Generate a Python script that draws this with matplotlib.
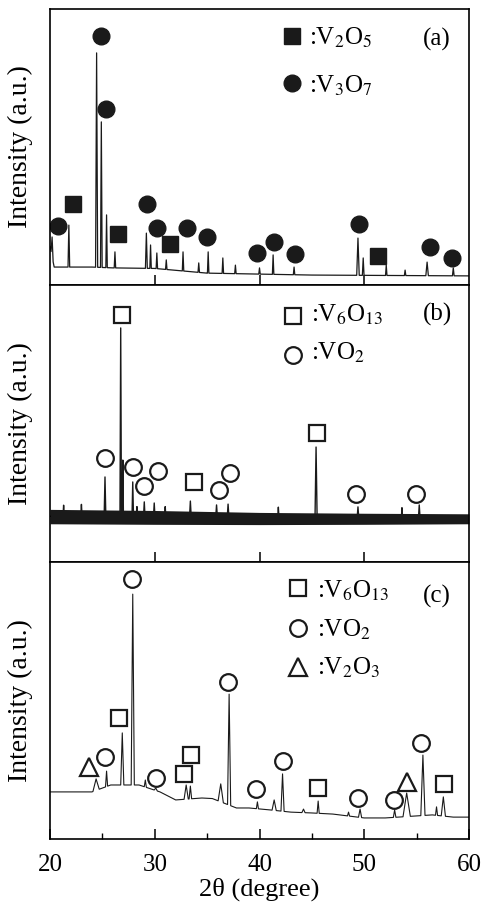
import numpy as np
import matplotlib.pyplot as plt

plt.rcParams['font.family'] = ['Liberation Serif', 'DejaVu Serif']
plt.rcParams['mathtext.fontset'] = 'stix'

#####################################################################
# data (intensity in a.u., each panel 0-100)
#####################################################################
# panel (a)
a_base_x = [20.0, 20.4, 24.0, 26.0, 30.0, 35.0, 45.0, 60.0]
a_base_y = [14.0, 6.5, 6.5, 6.2, 6.0, 4.3, 3.6, 3.3]
a_peak_x = [20.2, 21.8, 24.45, 24.9, 25.4, 26.2, 29.2, 29.6, 30.2, 31.1, 32.7, 34.2,
            35.1, 36.5, 37.7, 40.0, 41.3, 43.3, 49.4, 49.9, 52.1, 53.9, 56.0, 58.5]
a_peak_h = [17.4, 21.7, 84.1, 59.1, 25.4, 12.0, 18.8, 14.5, 11.6, 9.1, 12.0, 8.0,
            12.0, 9.8, 7.2, 6.2, 10.9, 6.5, 17.0, 9.8, 7.2, 5.4, 8.3, 6.2]
a_peak_w = [0.10, 0.08, 0.10, 0.08, 0.07, 0.07, 0.09, 0.07, 0.07, 0.07, 0.07, 0.07,
            0.07, 0.07, 0.07, 0.07, 0.07, 0.07, 0.12, 0.08, 0.07, 0.07, 0.12, 0.08]
a_v2o5_x = [22.2, 26.5, 31.5, 51.3]
a_v2o5_y = [29.3, 18.5, 14.9, 10.5]
a_v3o7_x = [20.8, 24.9, 25.35, 29.3, 30.2, 33.05, 35.0, 39.8, 41.4, 43.4, 49.5, 56.3, 58.35]
a_v3o7_y = [21.4, 90.2, 63.8, 29.3, 20.7, 20.7, 17.4, 11.6, 15.6, 11.2, 22.1, 13.8, 9.8]

# panel (b)
b_band_x = [20.0, 30.0, 40.0, 50.0, 60.0]
b_band_lo = [13.8, 13.6, 13.5, 13.6, 13.8]
b_band_hi = [19.0, 18.6, 17.9, 17.6, 17.4]
b_base_x = [20.0, 60.0]
b_base_y = [16.5, 15.5]
b_peak_x = [21.3, 23.0, 25.25, 26.75, 26.95, 27.9, 28.3, 29.0, 29.95, 31.0, 33.4, 35.9,
            37.0, 41.8, 45.4, 49.4, 53.6, 55.25]
b_peak_h = [20.5, 20.8, 30.7, 84.5, 36.8, 28.9, 20.0, 21.7, 21.3, 20.0, 22.0, 20.6,
            20.9, 19.8, 41.5, 19.9, 19.6, 20.6]
b_peak_w = [0.06, 0.06, 0.08, 0.07, 0.06, 0.07, 0.06, 0.07, 0.07, 0.06, 0.08, 0.08,
            0.08, 0.06, 0.10, 0.08, 0.06, 0.08]
b_v6o13_x = [26.85, 33.7, 45.45]
b_v6o13_y = [89.2, 28.9, 46.6]
b_vo2_x = [25.25, 27.95, 29.0, 30.35, 36.1, 37.2, 49.2, 54.95]
b_vo2_y = [37.5, 34.3, 27.4, 32.9, 26.0, 32.1, 24.5, 24.5]

# panel (c)
c_base_x = [20.0, 24.0, 25.8, 28.5, 30.5, 32.0, 34.5, 35.5, 37.8, 39.0, 41.0,
            43.0, 45.0, 47.0, 50.0, 52.0, 56.5, 58.5, 60.0]
c_base_y = [17.0, 17.0, 19.5, 19.5, 17.0, 14.1, 14.8, 14.6, 11.2, 11.2, 10.5,
            9.7, 9.4, 9.0, 7.6, 7.6, 8.7, 7.9, 7.9]
c_peak_x = [24.4, 25.4, 26.9, 27.9, 29.1, 30.1, 33.0, 33.4, 36.3, 37.1, 39.8, 41.4,
            42.2, 44.2, 45.6, 48.5, 49.6, 52.9, 54.05, 55.6, 56.9, 57.55]
c_peak_h = [21.7, 24.5, 38.3, 88.4, 21.3, 18.4, 19.5, 19.1, 19.9, 52.3, 13.4, 14.1,
            23.5, 10.8, 13.7, 9.7, 10.8, 10.5, 16.6, 30.3, 11.6, 15.2]
c_peak_w = [0.30, 0.10, 0.15, 0.15, 0.10, 0.15, 0.20, 0.12, 0.25, 0.15, 0.10, 0.20,
            0.15, 0.15, 0.10, 0.10, 0.15, 0.12, 0.35, 0.20, 0.10, 0.20]
c_v6o13_x = [26.6, 32.8, 33.45, 45.6, 57.65]
c_v6o13_y = [43.7, 23.5, 30.3, 18.4, 19.9]
c_vo2_x = [25.25, 27.8, 30.1, 37.0, 39.7, 42.2, 49.4, 52.8, 55.4]
c_vo2_y = [29.6, 93.9, 22.0, 56.7, 18.1, 28.2, 14.8, 14.1, 34.7]
c_v2o3_x = [23.75, 54.1]
c_v2o3_y = [26.0, 20.6]


def trace(bx, by, px, ph, pw):
    # baseline points plus a triangle for every peak
    xs = list(bx)
    ys = list(by)
    for p, h, w in zip(px, ph, pw):
        xs += [p - w, p, p + w]
        ys += [np.interp(p - w, bx, by), h, np.interp(p + w, bx, by)]
    order = np.argsort(xs, kind='stable')
    return np.array(xs)[order], np.array(ys)[order]


fig = plt.figure(figsize=(4.84, 9.09), dpi=100)
left, width = 50/484., 419/484.
ax_a = fig.add_axes([left, 1 - 285/909., width, 276/909.])
ax_b = fig.add_axes([left, 1 - 562/909., width, 277/909.])
ax_c = fig.add_axes([left, 1 - 839/909., width, 277/909.])

ms = 12
sq_fill = dict(marker='s', color='#1a1a1a', ms=ms, ls='none', mec='#1a1a1a')
ci_fill = dict(marker='o', color='#1a1a1a', ms=ms, ls='none', mec='#1a1a1a')
sq_open = dict(marker='s', mfc='white', mec='#1a1a1a', mew=1.6, ms=ms, ls='none')
ci_open = dict(marker='o', mfc='white', mec='#1a1a1a', mew=1.6, ms=ms, ls='none')
tr_open = dict(marker='^', mfc='white', mec='#1a1a1a', mew=1.6, ms=ms + 1, ls='none')

# (a)
x, y = trace(a_base_x, a_base_y, a_peak_x, a_peak_h, a_peak_w)
ax_a.plot(x, y, color='#1a1a1a', lw=0.9)
ax_a.plot(a_v2o5_x, a_v2o5_y, **sq_fill)
ax_a.plot(a_v3o7_x, a_v3o7_y, **ci_fill)

# (b)
ax_b.fill_between(b_band_x, b_band_lo, b_band_hi, color='#1a1a1a', lw=0)
x, y = trace(b_base_x, b_base_y, b_peak_x, b_peak_h, b_peak_w)
ax_b.plot(x, y, color='#1a1a1a', lw=1.0)
ax_b.plot(b_v6o13_x, b_v6o13_y, **sq_open)
ax_b.plot(b_vo2_x, b_vo2_y, **ci_open)

# (c)
x, y = trace(c_base_x, c_base_y, c_peak_x, c_peak_h, c_peak_w)
ax_c.plot(x, y, color='#1a1a1a', lw=0.8)
ax_c.plot(c_v6o13_x, c_v6o13_y, **sq_open)
ax_c.plot(c_vo2_x, c_vo2_y, **ci_open)
ax_c.plot(c_v2o3_x, c_v2o3_y, **tr_open)

fs = 18
# legends drawn by hand
def key(ax, xm, ym, xt, yt, style, label):
    ax.plot([xm], [ym], transform=ax.transAxes, clip_on=False, **style)
    ax.text(xt, yt, label, transform=ax.transAxes, fontsize=fs, va='baseline')

key(ax_a, 0.577, 0.902, 0.618, 0.870, sq_fill, ':V$_2$O$_5$')
key(ax_a, 0.577, 0.732, 0.618, 0.696, ci_fill, ':V$_3$O$_7$')
ax_a.text(0.924, 0.891, '(a)', transform=ax_a.transAxes, fontsize=fs, ha='center', va='center')

key(ax_b, 0.579, 0.888, 0.623, 0.866, sq_open, ':V$_6$O$_{13}$')
key(ax_b, 0.579, 0.747, 0.623, 0.729, ci_open, ':VO$_2$')
ax_b.text(0.924, 0.892, '(b)', transform=ax_b.transAxes, fontsize=fs, ha='center', va='center')

key(ax_c, 0.591, 0.906, 0.638, 0.870, sq_open, ':V$_6$O$_{13}$')
key(ax_c, 0.591, 0.762, 0.638, 0.729, ci_open, ':VO$_2$')
key(ax_c, 0.591, 0.621, 0.638, 0.592, tr_open, ':V$_2$O$_3$')
ax_c.text(0.924, 0.874, '(c)', transform=ax_c.transAxes, fontsize=fs, ha='center', va='center')

for ax in (ax_a, ax_b, ax_c):
    ax.set_xlim(20, 60)
    ax.set_ylim(0, 100)
    ax.set_yticks([])
    ax.set_ylabel('Intensity (a.u.)', fontsize=20)
    ax.yaxis.set_label_coords(-0.041, 0.5)
    for s in ax.spines.values():
        s.set_linewidth(1.2)
    ax.tick_params(axis='x', which='major', direction='in', length=7, width=1.1,
                   top=False, labelsize=fs, pad=11)
    ax.tick_params(axis='x', which='minor', direction='in', length=4, width=1.0, top=False)

for ax in (ax_a, ax_b):
    ax.set_xticks([30, 40, 50])
    ax.set_xticklabels([])

ax_c.set_xticks([20, 30, 40, 50, 60])
ax_c.set_xticks([25, 35, 45, 55], minor=True)
ax_c.set_xlabel('2θ (degree)', fontsize=19, labelpad=1)

plt.savefig('out.png', dpi=100)
